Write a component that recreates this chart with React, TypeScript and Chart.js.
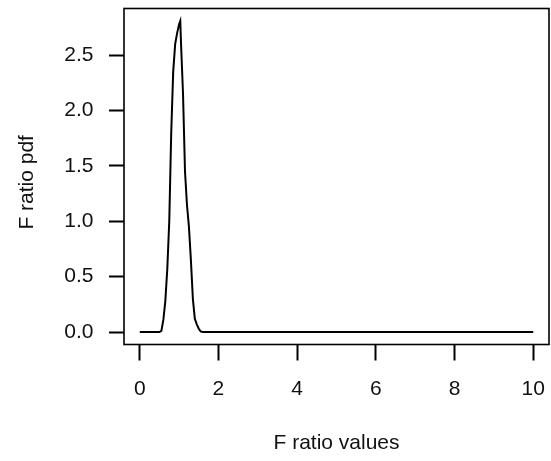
import React, { useEffect, useRef } from "react";
import { Chart, registerables } from "chart.js";

Chart.register(...registerables);

// F ratio values (x) and pdf values (y)
const xValues = [0, 0.5, 0.55, 0.6, 0.65, 0.7, 0.75, 0.8, 0.85, 0.9, 0.95, 1.0, 1.03, 1.05, 1.1, 1.15, 1.2, 1.25, 1.3, 1.35, 1.4, 1.45, 1.5, 1.55, 1.6, 10];
const yValues = [0, 0, 0.01, 0.11, 0.28, 0.57, 1.0, 1.8, 2.35, 2.6, 2.7, 2.78, 2.81, 2.6, 2.15, 1.45, 1.15, 0.95, 0.65, 0.3, 0.12, 0.07, 0.03, 0.005, 0, 0];

const xTicks = [0, 2, 4, 6, 8, 10];
const yTicks = [0, 0.5, 1.0, 1.5, 2.0, 2.5];
const xTitle = "F ratio values";
const yTitle = "F ratio pdf";

const FONT = "'Liberation Sans', Arial, sans-serif";
const FS = 21;

const boxPlugin = {
  id: "rbox",
  afterDatasetsDraw(chart: any) {
    const { ctx, chartArea } = chart;
    ctx.save();
    ctx.strokeStyle = "#000";
    ctx.lineWidth = 1.6;
    ctx.strokeRect(chartArea.left, chartArea.top, chartArea.right - chartArea.left, chartArea.bottom - chartArea.top);
    ctx.restore();
  },
};

const zeroPad = (s: any) => {
  s.paddingTop = 0;
  s.paddingBottom = 0;
  s.paddingLeft = 0;
  s.paddingRight = 0;
};

export default function App() {
  const ref = useRef<HTMLCanvasElement | null>(null);
  useEffect(() => {
    if (!ref.current) return;
    const data = xValues.map((x, i) => ({ x, y: yValues[i] }));
    const chart = new Chart(ref.current, {
      type: "line",
      data: {
        datasets: [
          {
            data,
            borderColor: "#000",
            borderWidth: 2,
            pointRadius: 0,
            tension: 0,
            fill: false,
          },
        ],
      },
      options: {
        responsive: false,
        animation: false,
        layout: { padding: { top: 8.5, right: 2, bottom: 0, left: 0 } },
        plugins: { legend: { display: false }, tooltip: { enabled: false } },
        scales: {
          x: {
            type: "linear",
            min: -0.4,
            max: 10.4,
            afterBuildTicks: (s: any) => {
              s.ticks = xTicks.map((v) => ({ value: v }));
            },
            afterFit: (s: any) => {
              s.height = 116.5;
              zeroPad(s);
            },
            border: { display: false },
            grid: {
              drawOnChartArea: false,
              drawTicks: true,
              tickLength: 16,
              tickWidth: 2,
              tickColor: "#000",
            },
            ticks: {
              color: "#111",
              padding: 16,
              maxRotation: 0,
              autoSkip: false,
              font: { family: FONT, size: FS },
              callback: (v: any) => String(v),
            },
            title: {
              display: true,
              text: xTitle,
              color: "#111",
              font: { family: FONT, size: FS },
              padding: { top: 0, bottom: 5.4 },
            },
          },
          y: {
            type: "linear",
            min: -0.1124,
            max: 2.9224,
            afterBuildTicks: (s: any) => {
              s.ticks = yTicks.map((v) => ({ value: v }));
            },
            afterFit: (s: any) => {
              s.width = 124;
              zeroPad(s);
            },
            border: { display: false },
            grid: {
              drawOnChartArea: false,
              drawTicks: true,
              tickLength: 15,
              tickWidth: 2,
              tickColor: "#000",
            },
            ticks: {
              color: "#111",
              padding: 15.5,
              autoSkip: false,
              font: { family: FONT, size: FS },
              callback: (v: any) => Number(v).toFixed(1),
            },
            title: {
              display: true,
              text: yTitle + "  ",
              color: "#111",
              font: { family: FONT, size: FS },
              padding: { top: 14.4, bottom: 0 },
            },
          },
        },
      },
      plugins: [boxPlugin],
    });
    return () => chart.destroy();
  }, []);
  return (
    <div style={{ position: "fixed", left: 0, top: 0, width: 551, height: 461, background: "#fff" }}>
      <canvas ref={ref} width={551} height={461} />
    </div>
  );
}
